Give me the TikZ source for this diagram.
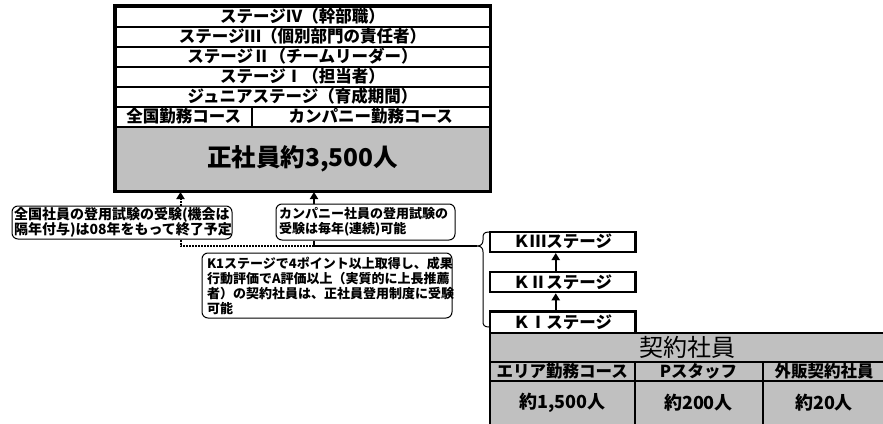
\documentclass[tikz,border=0pt]{standalone}
\usepackage{fontspec}
\setmainfont{Noto Sans CJK JP}
\usepackage{tikz}
\usetikzlibrary{positioning}
\usetikzlibrary{arrows.meta}
\definecolor{boxgray}{RGB}{192,192,192}
\newcommand{\jpsize}[2]{\fontsize{#1pt}{#2pt}\selectfont}

\begin{document}
\begin{tikzpicture}[x=1pt,y=-1pt,
  stagerow/.style={draw,line width=2pt,minimum width=374pt,minimum height=20pt,inner sep=0pt,font=\bfseries\jpsize{16.5}{17}},
  coursecell/.style={draw,line width=2pt,minimum height=20pt,inner sep=0pt,font=\bfseries\jpsize{16.5}{17}},
  kstage/.style={draw,line width=2.5pt,minimum width=145.5pt,inner sep=0pt,font=\bfseries\jpsize{16.5}{17}},
  kcell/.style={draw,line width=2pt,fill=boxgray,inner sep=0pt},
  note/.style={draw,line width=1pt,rounded corners=6pt,align=left,inner ysep=0pt,font=\bfseries},
  dotline/.style={line width=2pt,dash pattern=on 2pt off 1pt},
  solidline/.style={line width=2pt},
  uparrow/.style={-{Triangle[width=8pt,length=7pt]}}]
\useasboundingbox (0,0) rectangle (883,423);

\foreach \txt [count=\i] in {ステージⅣ（幹部職）,ステージⅢ（個別部門の責任者）,ステージⅡ（チームリーダー）,ステージⅠ（担当者）,ジュニアステージ（育成期間）}
  \node[stagerow] (row\i) at (302.5,{-3.5+20*\i}) {\txt};
\node[coursecell,minimum width=136.5pt] (zenkoku) at (183.75,116.5) {全国勤務コース};
\node[coursecell,minimum width=237.5pt] (company) at (370.75,116.5) {カンパニー勤務コース};
\node[draw,line width=2pt,fill=boxgray,minimum width=374pt,minimum height=64.5pt,inner sep=0pt,font=\bfseries\jpsize{24.5}{25}] (main) at (302.5,158.75) {正社員約3,500人};
\draw[line width=2.5pt] (row1.north west) rectangle (main.south east);

\node[note,text width=216pt,inner xsep=2pt,minimum height=33pt,font=\bfseries\jpsize{14}{15}] (noteL) at (122,222.5) {全国社員の登用試験の受験(機会は\\隔年付与)は08年をもって終了予定};
\node[note,text width=173pt,inner xsep=3pt,minimum height=36pt,font=\bfseries\jpsize{13}{15}] (noteC) at (365.5,222) {カンパニー社員の登用試験の\\受験は毎年(連続)可能};
\node[note,text width=240pt,inner xsep=5pt,minimum height=65pt,font=\bfseries\jpsize{13}{15}] (noteK) at (327,285.5) {K1ステージで4ポイント以上取得し、成果\\行動評価でA評価以上（実質的に上長推薦\\者）の契約社員は、正社員登用制度に受験\\可能};

\node[kstage,minimum height=20pt] (k3) at (562.75,241.75) {ＫⅢステージ};
\node[kstage,minimum height=20pt] (k2) at (562.75,282) {ＫⅡステージ};
\node[kstage,minimum height=21.5pt] (k1) at (562.75,322.25) {ＫⅠステージ};
\draw[solidline,uparrow] ([xshift=-7pt]k1.north) -- ([xshift=-7pt]k2.south);
\draw[solidline,uparrow] ([xshift=-7pt]k2.north) -- ([xshift=-7pt]k3.south);

\node[kcell,minimum width=395pt,minimum height=28.5pt,font=\jpsize{24}{24}] (ktitle) at (687.5,347.25) {契約社員};
\node[kcell,minimum width=144.5pt,minimum height=19.5pt,font=\bfseries\jpsize{16.5}{17}] (area) at (562.25,371.25) {エリア勤務コース};
\node[kcell,minimum width=128pt,minimum height=19.5pt,font=\bfseries\jpsize{16.5}{17}] (pstaff) at (698.5,371.25) {Pスタッフ};
\node[kcell,minimum width=123pt,minimum height=19.5pt,font=\bfseries\jpsize{16.5}{17}] (gaihan) at (824,371.25) {外販契約社員};
\node[kcell,minimum width=144.5pt,minimum height=44pt,font=\bfseries\jpsize{18}{18}] (areanum) at (562.25,403) {約1,500人};
\node[kcell,minimum width=128pt,minimum height=44pt,font=\bfseries\jpsize{18}{18}] (pstaffnum) at (698.5,403) {約200人};
\node[kcell,minimum width=123pt,minimum height=44pt,font=\bfseries\jpsize{18}{18}] (gaihannum) at (824,403) {約20人};

\coordinate (xL) at (180.5,0);
\coordinate (xC) at (314,0);
\coordinate (join) at (314,246);
\coordinate (bracetip) at (477,246);
\draw[dotline,uparrow] (noteL.north -| xL) -- (main.south -| xL);
\draw[solidline,uparrow] (noteC.north -| xC) -- (main.south -| xC);
\draw[dotline] (noteL.south -| xL) |- (join);
\draw[solidline] (noteC.south -| xC) -- (join) -- (bracetip);
\draw[line width=1pt] (489,232) .. controls (484,232) and (483,234) .. (483,238) -- (483,240)
  .. controls (483,244) and (481,246) .. (bracetip) .. controls (481,246) and (483,248) .. (483,252)
  -- (483,321) .. controls (483,325) and (484,327) .. (489,327);
\end{tikzpicture}
\end{document}
